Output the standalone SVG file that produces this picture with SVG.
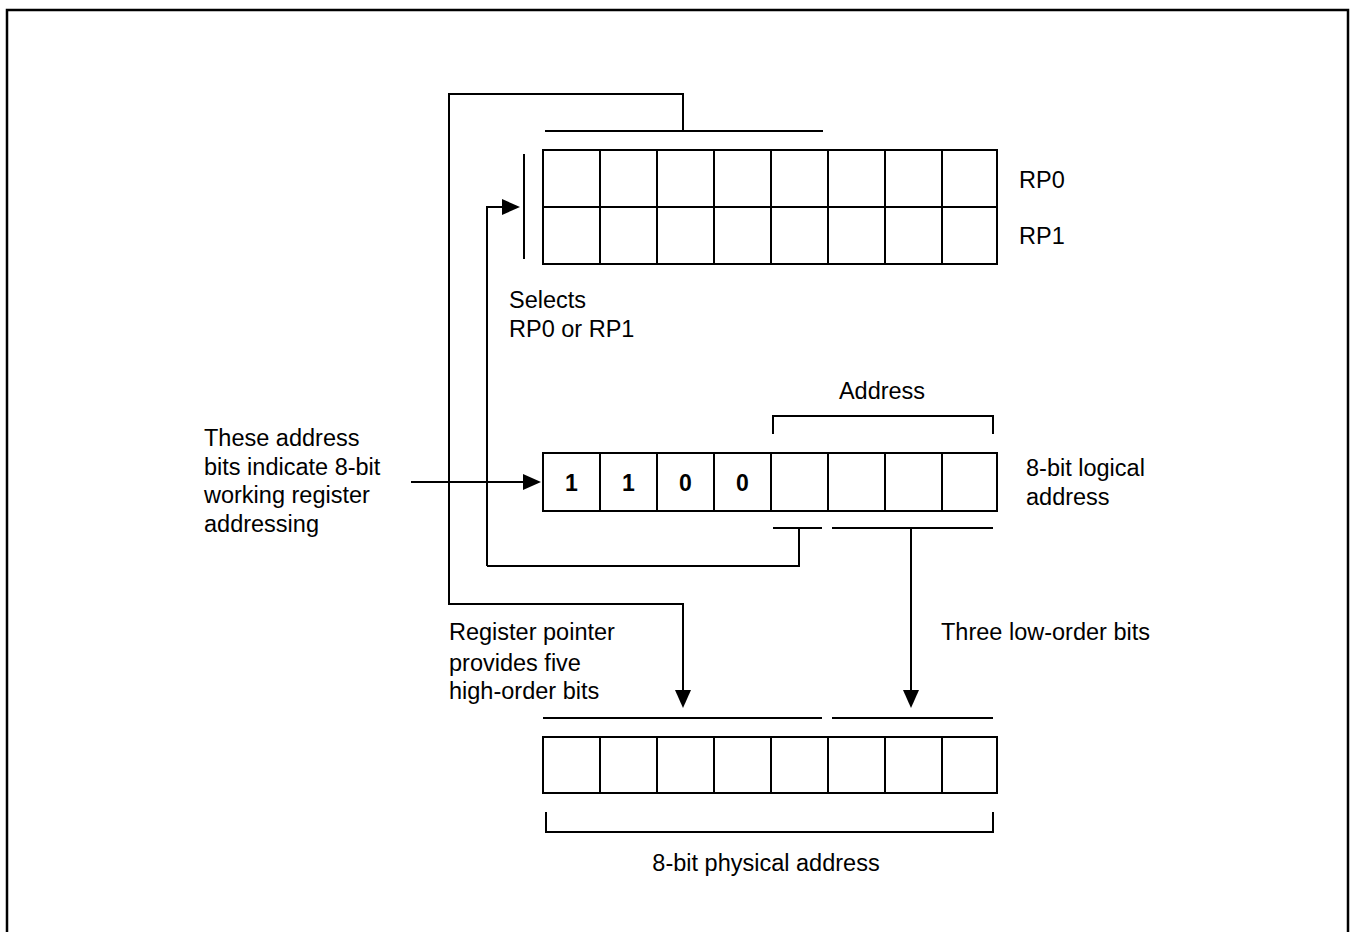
<svg xmlns="http://www.w3.org/2000/svg" width="1355" height="932" viewBox="0 0 1355 932">
<style>
.ln{fill:none;stroke:#000;stroke-width:2}
.cell{fill:#fff;stroke:#000;stroke-width:2}
.t{font-family:"Liberation Sans",Arial,sans-serif;font-size:23.5px;fill:#000}
.b{font-family:"Liberation Sans",Arial,sans-serif;font-size:23px;font-weight:bold;fill:#000;text-anchor:middle}
.ah{fill:#000}
</style>
<rect x="0" y="0" width="1355" height="932" fill="#fff"/>
<rect id="frame" x="7" y="10" width="1341" height="940" fill="none" stroke="#000" stroke-width="2.5"/>

<g id="rp-registers">
<rect class="cell" x="543" y="150" width="454" height="114"/>
<path class="ln" d="M543 207H997 M600 150V264 M657 150V264 M714 150V264 M771 150V264 M828 150V264 M885 150V264 M942 150V264"/>
<text class="t" x="1019" y="188">RP0</text>
<text class="t" x="1019" y="244">RP1</text>
</g>

<g id="logical-address">
<rect class="cell" x="543" y="453" width="454" height="58"/>
<path class="ln" d="M600 453V511 M657 453V511 M714 453V511 M771 453V511 M828 453V511 M885 453V511 M942 453V511"/>
<text class="b" x="571.5" y="491">1</text>
<text class="b" x="628.5" y="491">1</text>
<text class="b" x="685.5" y="491">0</text>
<text class="b" x="742.5" y="491">0</text>
<text class="t" x="1026" y="476">8-bit logical</text>
<text class="t" x="1026" y="505">address</text>
<path class="ln" d="M773 434V416H993V434"/>
<text class="t" x="882" y="399" text-anchor="middle">Address</text>
</g>

<g id="physical-address">
<rect class="cell" x="543" y="737" width="454" height="56"/>
<path class="ln" d="M600 737V793 M657 737V793 M714 737V793 M771 737V793 M828 737V793 M885 737V793 M942 737V793"/>
<path class="ln" d="M546 812V832H993V812"/>
<text class="t" x="766" y="871" text-anchor="middle">8-bit physical address</text>
</g>

<g id="labels">
<text class="t" x="509" y="308">Selects</text>
<text class="t" x="509" y="337">RP0 or RP1</text>
<text class="t" x="204" y="446">These address</text>
<text class="t" x="204" y="475">bits indicate 8-bit</text>
<text class="t" x="204" y="503">working register</text>
<text class="t" x="204" y="532">addressing</text>
<text class="t" x="449" y="640">Register pointer</text>
<text class="t" x="449" y="671">provides five</text>
<text class="t" x="449" y="699">high-order bits</text>
<text class="t" x="941" y="640">Three low-order bits</text>
</g>

<g id="connectors">
<path class="ln" d="M545 131H823"/>
<path class="ln" d="M683 131V94H449V604H683V692"/>
<polygon class="ah" points="675,690 691,690 683,708"/>
<path class="ln" d="M524 154V259"/>
<path class="ln" d="M487 566V207H503"/>
<polygon class="ah" points="502,199 502,215 520,207"/>
<path class="ln" d="M411 482H525"/>
<polygon class="ah" points="523,474 523,490 541,482"/>
<path class="ln" d="M773 528H822 M832 528H993"/>
<path class="ln" d="M799 528V566H487"/>
<path class="ln" d="M911 528V692"/>
<polygon class="ah" points="903,690 919,690 911,708"/>
<path class="ln" d="M543 718H822 M832 718H993"/>
</g>
</svg>
